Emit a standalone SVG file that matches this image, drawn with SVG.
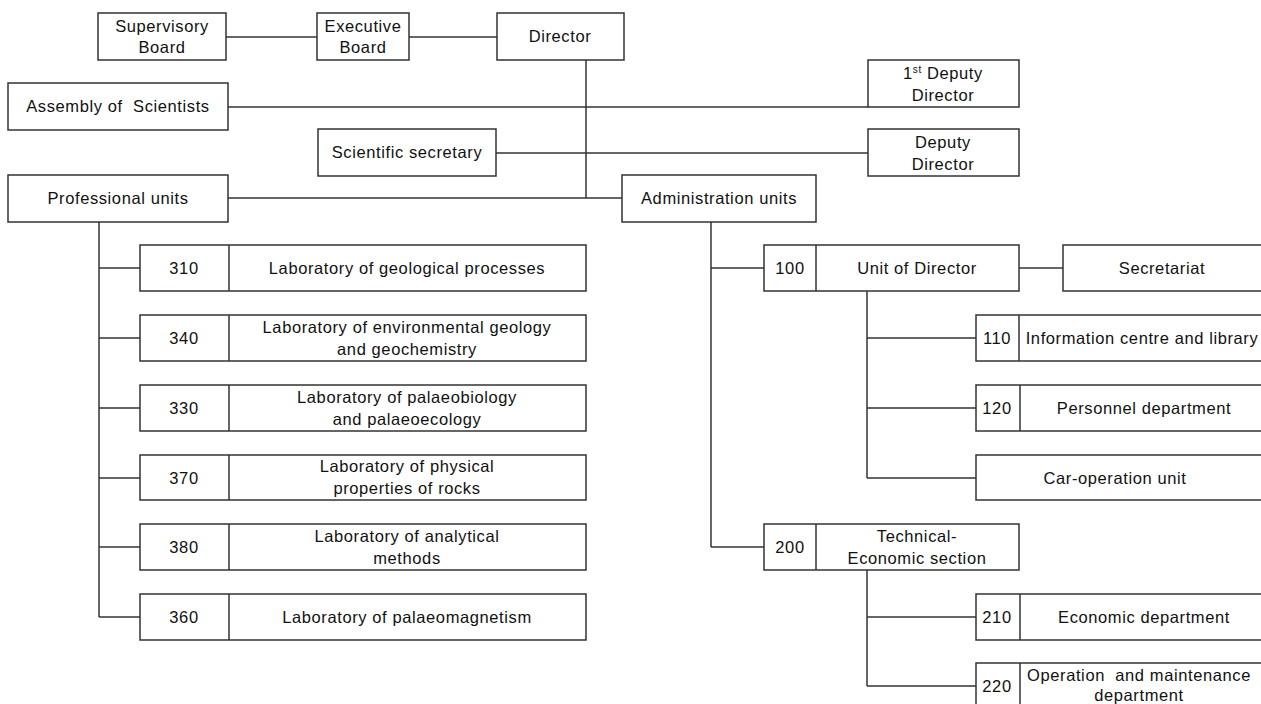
<svg xmlns="http://www.w3.org/2000/svg" width="1261" height="704" viewBox="0 0 1261 704">
<style>
rect{fill:#fff;stroke:#333;stroke-width:1.5}
line,path{stroke:#333;stroke-width:1.5;fill:none}
text{font-family:"Liberation Sans",Arial,sans-serif;font-size:16.5px;letter-spacing:0.6px;fill:#111;text-anchor:middle}
</style>
<rect x="0" y="0" width="1261" height="704" style="stroke:none"/>
<g id="connectors">
<line x1="226" y1="37" x2="317" y2="37"/>
<line x1="409" y1="37" x2="497" y2="37"/>
<line x1="586" y1="60" x2="586" y2="198"/>
<line x1="228" y1="107" x2="868" y2="107"/>
<line x1="496" y1="153" x2="868" y2="153"/>
<line x1="228" y1="198" x2="622" y2="198"/>
<line x1="99" y1="222" x2="99" y2="617"/>
<line x1="99" y1="268" x2="140" y2="268"/>
<line x1="99" y1="338" x2="140" y2="338"/>
<line x1="99" y1="408" x2="140" y2="408"/>
<line x1="99" y1="478" x2="140" y2="478"/>
<line x1="99" y1="547" x2="140" y2="547"/>
<line x1="99" y1="617" x2="140" y2="617"/>
<line x1="711" y1="222" x2="711" y2="547"/>
<line x1="711" y1="268" x2="764" y2="268"/>
<line x1="711" y1="547" x2="764" y2="547"/>
<line x1="1019" y1="268" x2="1063" y2="268"/>
<line x1="867" y1="291" x2="867" y2="478"/>
<line x1="867" y1="338" x2="976" y2="338"/>
<line x1="867" y1="408" x2="976" y2="408"/>
<line x1="867" y1="478" x2="976" y2="478"/>
<line x1="867" y1="570" x2="867" y2="686"/>
<line x1="867" y1="617" x2="976" y2="617"/>
<line x1="867" y1="686" x2="976" y2="686"/>
</g>
<g id="supervisory"><rect x="98" y="13" width="128" height="47"/><text x="162" y="32">Supervisory</text><text x="162" y="53">Board</text></g>
<g id="executive"><rect x="317" y="13" width="92" height="47"/><text x="363" y="32">Executive</text><text x="363" y="53">Board</text></g>
<g id="director"><rect x="497" y="13" width="127" height="47"/><text x="560" y="42">Director</text></g>
<g id="assembly"><rect x="8" y="83" width="220" height="47"/><text x="118" y="112" xml:space="preserve">Assembly of  Scientists</text></g>
<g id="deputy1"><rect x="868" y="60" width="151" height="47"/><text x="943" y="79">1<tspan dy="-6" font-size="10">st</tspan><tspan dy="6"> Deputy</tspan></text><text x="943" y="101">Director</text></g>
<g id="scisec"><rect x="318" y="129" width="178" height="47"/><text x="407" y="158">Scientific secretary</text></g>
<g id="deputy"><rect x="868" y="129" width="151" height="47"/><text x="943" y="148">Deputy</text><text x="943" y="170">Director</text></g>
<g id="profunits"><rect x="8" y="175" width="220" height="47"/><text x="118" y="204">Professional units</text></g>
<g id="adminunits"><rect x="622" y="175" width="194" height="47"/><text x="719" y="204">Administration units</text></g>
<g id="lab310"><rect x="140" y="245" width="446" height="46"/><line x1="229" y1="245" x2="229" y2="291"/><text x="184" y="274">310</text><text x="407" y="274">Laboratory of geological processes</text></g>
<g id="lab340"><rect x="140" y="315" width="446" height="46"/><line x1="229" y1="315" x2="229" y2="361"/><text x="184" y="344">340</text><text x="407" y="333">Laboratory of environmental geology</text><text x="407" y="355">and geochemistry</text></g>
<g id="lab330"><rect x="140" y="385" width="446" height="46"/><line x1="229" y1="385" x2="229" y2="431"/><text x="184" y="414">330</text><text x="407" y="403">Laboratory of palaeobiology</text><text x="407" y="425">and palaeoecology</text></g>
<g id="lab370"><rect x="140" y="455" width="446" height="45"/><line x1="229" y1="455" x2="229" y2="500"/><text x="184" y="484">370</text><text x="407" y="472">Laboratory of physical</text><text x="407" y="494">properties of rocks</text></g>
<g id="lab380"><rect x="140" y="524" width="446" height="46"/><line x1="229" y1="524" x2="229" y2="570"/><text x="184" y="553">380</text><text x="407" y="542">Laboratory of analytical</text><text x="407" y="564">methods</text></g>
<g id="lab360"><rect x="140" y="594" width="446" height="46"/><line x1="229" y1="594" x2="229" y2="640"/><text x="184" y="623">360</text><text x="407" y="623">Laboratory of palaeomagnetism</text></g>
<g id="unit100"><rect x="764" y="245" width="255" height="46"/><line x1="816" y1="245" x2="816" y2="291"/><text x="790" y="274">100</text><text x="917" y="274">Unit of Director</text></g>
<g id="secretariat"><rect x="1063" y="245" width="210" height="46"/><text x="1162" y="274">Secretariat</text></g>
<g id="unit110"><rect x="976" y="315" width="297" height="46"/><line x1="1019" y1="315" x2="1019" y2="361"/><text x="997" y="344">110</text><text x="1142" y="344">Information centre and library</text></g>
<g id="unit120"><rect x="976" y="385" width="297" height="46"/><line x1="1020" y1="385" x2="1020" y2="431"/><text x="997" y="414">120</text><text x="1144" y="414">Personnel department</text></g>
<g id="caroperation"><rect x="976" y="455" width="297" height="45"/><text x="1115" y="484">Car-operation unit</text></g>
<g id="unit200"><rect x="764" y="524" width="255" height="46"/><line x1="816" y1="524" x2="816" y2="570"/><text x="790" y="553">200</text><text x="917" y="542">Technical-</text><text x="917" y="564">Economic section</text></g>
<g id="unit210"><rect x="976" y="594" width="297" height="46"/><line x1="1020" y1="594" x2="1020" y2="640"/><text x="997" y="623">210</text><text x="1144" y="623">Economic department</text></g>
<g id="unit220"><rect x="976" y="663" width="297" height="60"/><line x1="1020" y1="663" x2="1020" y2="723"/><text x="997" y="692">220</text><text x="1139" y="681" xml:space="preserve">Operation  and maintenance</text><text x="1139" y="701">department</text></g>
</svg>
